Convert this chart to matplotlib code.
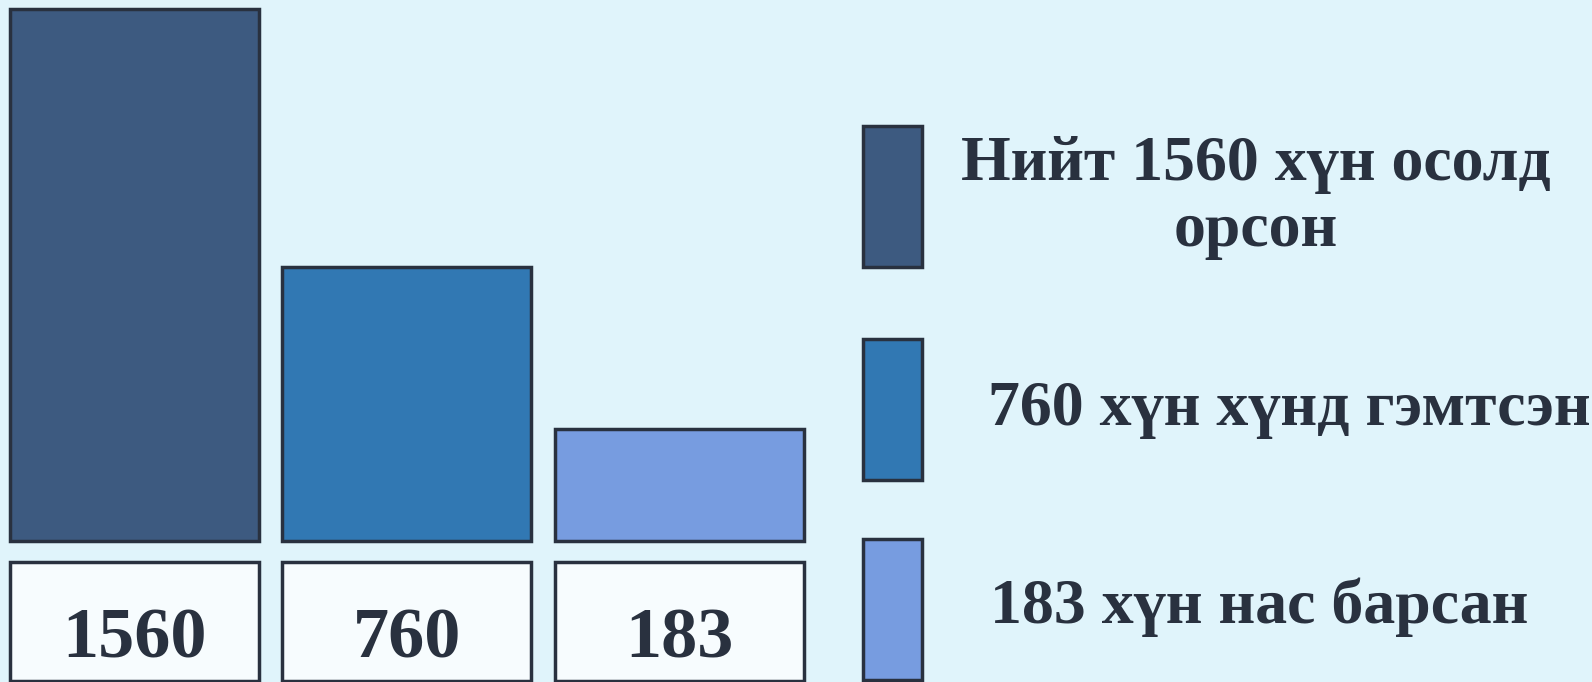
import matplotlib
matplotlib.use("Agg")
from matplotlib import pyplot as plt
from matplotlib.patches import Rectangle

# data
values = [1560, 760, 183]
# drawn bar heights, relative to the tallest bar (the picture is not to scale)
bar_heights = [100, 51.5, 21.0]
labels = ["Нийт 1560 хүн осолд\nорсон", "760 хүн хүнд гэмтсэн", "183 хүн нас барсан"]
colors = ["#3D5A80", "#3178B3", "#779CE0"]

bg = "#E0F4FB"
edge = "#29313F"
W, H = 1592, 682

plt.rcParams["font.family"] = ["Liberation Serif", "DejaVu Serif"]
plt.rcParams["font.weight"] = "bold"

fig = plt.figure(figsize=(W / 100, H / 100), dpi=100, facecolor=bg)

x = list(range(len(values)))
step = 272.5
x0 = 134.5
xl = (-x0 / step, (818 - x0) / step)

# bars
ax = fig.add_axes([0, 141 / H, 818 / W, 532 / H])
ax.set_facecolor(bg)
ax.bar(x, bar_heights, width=249 / step, color=colors, edgecolor=edge, linewidth=2.5, clip_on=False)
ax.set_xlim(*xl)
ax.set_ylim(0, 100)
ax.axis("off")

# value boxes
axb = fig.add_axes([0, 1 / H, 818 / W, 119 / H])
axb.bar(x, [1] * len(values), width=249 / step, color="#F7FCFE", edgecolor=edge, linewidth=2.5, clip_on=False)
for i, v in enumerate(values):
    axb.text(i, 0.2, str(v), ha="center", va="baseline", fontsize=52, color=edge, fontweight="bold")
axb.set_xlim(*xl)
axb.set_ylim(0, 1)
axb.axis("off")

# legend
axl = fig.add_axes([0, 0, 1, 1], zorder=-1)
axl.set_facecolor(bg)
axl.set_xlim(0, W)
axl.set_ylim(0, H)
axl.axis("off")
sw_bottoms = [415, 202, 2]
for c, b in zip(colors, sw_bottoms):
    axl.add_patch(Rectangle((863, b), 59, 141, facecolor=c, edgecolor=edge, linewidth=2.5))
axl.text(1256, 484, labels[0], ha="center", va="center", multialignment="center",
         fontsize=46, color=edge, fontweight="bold", linespacing=1.17)
axl.text(988, 257, labels[1], ha="left", va="baseline", fontsize=46, color=edge, fontweight="bold")
axl.text(990, 59, labels[2], ha="left", va="baseline", fontsize=46, color=edge, fontweight="bold")

fig.savefig("out.png", dpi=100, facecolor=bg)
